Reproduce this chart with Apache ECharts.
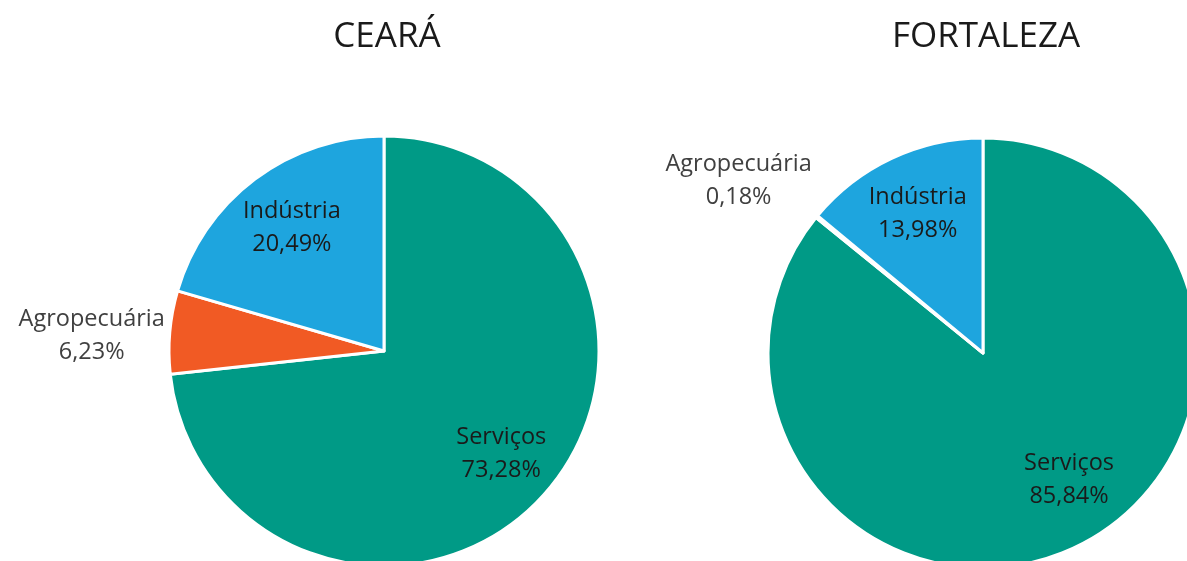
<!DOCTYPE html>
<html>
<head>
<meta charset="utf-8">
<script src="https://cdn.jsdelivr.net/npm/echarts@6/dist/echarts.min.js"></script>
<style>
  html, body { margin: 0; padding: 0; background: #fff; }
  #main { width: 1187px; height: 561px; }
</style>
</head>
<body>
<div id="main"></div>
<script>
// dados (%), ordem horaria a partir do topo
const categories = ['Serviços', 'Agropecuária', 'Indústria'];
const cearaValues = [73.28, 6.23, 20.49];
const fortalezaValues = [85.84, 0.18, 13.98];
const titles = ['CEARÁ', 'FORTALEZA'];

const colors = ['#009a86', '#f15a24', '#1ea5de'];
const FONT = 'Open Sans';
const FS = 23.5;
const R = 215;

function fmt(v) {
  return v.toFixed(2).replace('.', ',') + '%';
}

function pieData(values, overlay) {
  return categories.map(function (name, i) {
    const outside = name === 'Agropecuária';
    const item = { name: name, value: values[i] };
    if (overlay) {
      item.itemStyle = { color: 'transparent', borderWidth: 0 };
      item.label = { show: !outside };
    } else {
      item.label = { show: outside };
    }
    return item;
  });
}

function mainSeries(values, center, dy) {
  return {
    type: 'pie',
    center: center,
    radius: [0, R],
    startAngle: 90,
    clockwise: true,
    animation: false,
    silent: true,
    itemStyle: { borderColor: '#fff', borderWidth: 3 },
    label: {
      position: 'outside',
      distanceToLabelLine: 5,
      fontFamily: FONT,
      fontSize: FS,
      lineHeight: 33,
      color: '#404040',
      formatter: function (p) {
        return '{c|' + p.name + '}\n{c|' + fmt(p.value) + '}';
      },
      rich: { c: { align: 'center', fontFamily: FONT, fontSize: FS, lineHeight: 33, color: '#404040' } }
    },
    labelLine: { show: false, length: 0, length2: 0 },
    labelLayout: { dy: dy },
    data: pieData(values, false)
  };
}

function labelSeries(values, center, shift) {
  return {
    type: 'pie',
    center: center,
    radius: [R * 0.4, R],
    startAngle: 90,
    clockwise: true,
    animation: false,
    silent: true,
    z: 5,
    label: {
      position: 'inside',
      fontFamily: FONT,
      fontSize: FS,
      lineHeight: 33,
      color: '#1a1a1a',
      formatter: function (p) {
        return p.name + '\n' + fmt(p.value);
      }
    },
    labelLine: { show: false },
    labelLayout: function (p) {
      return p.dataIndex === 0 ? shift : {};
    },
    data: pieData(values, true)
  };
}

const chart = echarts.init(document.getElementById('main'));
const centers = [[384, 351], [983, 353]];

chart.setOption({
  backgroundColor: '#ffffff',
  color: colors,
  title: titles.map(function (t, i) {
    return {
      text: t,
      left: centers[i][0] + 3,
      top: 20,
      textAlign: 'center',
      padding: 0,
      textStyle: { fontFamily: FONT, fontSize: 35, fontWeight: 'normal', color: '#1a1a1a' }
    };
  }),
  series: [
    mainSeries(cearaValues, centers[0], 4),
    mainSeries(fortalezaValues, centers[1], -36),
    labelSeries(cearaValues, centers[0], { dx: 3, dy: 0 }),
    labelSeries(fortalezaValues, centers[1], { dx: 20, dy: -12 })
  ]
});
</script>
</body>
</html>
